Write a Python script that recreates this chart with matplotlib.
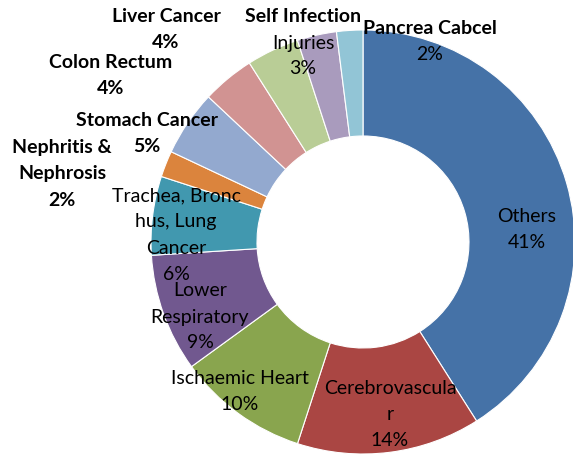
import matplotlib
matplotlib.use("Agg")
import matplotlib.pyplot as plt

# data
causes = ["Others", "Cerebrovascular", "Ischaemic Heart", "Lower Respiratory",
          "Trachea, Bronchus, Lung Cancer", "Nephritis & Nephrosis", "Stomach Cancer",
          "Colon Rectum", "Liver Cancer", "Self Infection Injuries", "Pancrea Cabcel"]
shares = [41, 14, 10, 9, 6, 2, 5, 4, 4, 3, 2]
colors = ["#4572A7", "#AA4643", "#89A54E", "#71588F", "#4198AF", "#DB843D",
          "#93A9CF", "#D19392", "#B9CD96", "#A99BBD", "#92C5D6"]

# label lines as wrapped in the chart, centre of the block (px from left / top),
# and which lines are drawn bold
label_lines = [["Others", "41%"], ["Cerebrovascula", "r", "14%"],
               ["Ischaemic Heart", "10%"], ["Lower", "Respiratory", "9%"],
               ["Trachea, Bronc", "hus, Lung", "Cancer", "6%"],
               ["Nephritis &", "Nephrosis", "2%"], ["Stomach Cancer", "5%"],
               ["Colon Rectum", "4%"], ["Liver Cancer", "4%"],
               ["Self Infection", "Injuries", "3%"], ["Pancrea Cabcel", "2%"]]
label_pos = [(527, 229), (390, 414), (240, 392), (200, 317), (176, 235),
             (62, 174), (147, 133), (111, 75), (166, 30), (303, 43), (430, 41)]
label_bold = [[0, 0], [0, 0, 0], [0, 0], [0, 0, 0], [0, 0, 0, 0],
              [1, 1, 1], [1, 1], [1, 1], [1, 1], [1, 0, 0], [1, 0]]

W, H = 573, 463
LINE = 26  # px between label lines

fig = plt.figure(figsize=(W / 100, H / 100), dpi=100)
ax = fig.add_axes([0, 0, 1, 1])

ax.pie(shares, colors=colors, startangle=90, counterclock=False,
       radius=212, center=(363, H - 242),
       wedgeprops=dict(width=106, edgecolor="white", linewidth=0.8))

for lines, (x, y), bold in zip(label_lines, label_pos, label_bold):
    top = y - LINE * (len(lines) - 1) / 2
    for i, (line, b) in enumerate(zip(lines, bold)):
        ax.text(x, H - (top + i * LINE), line, ha="center", va="center",
                fontsize=14, family=["Lato", "DejaVu Sans"],
                fontweight="bold" if b else "normal", color="black")

ax.set_xlim(0, W)
ax.set_ylim(0, H)
ax.set_aspect("equal")
ax.axis("off")

fig.savefig("out.png", dpi=100)
